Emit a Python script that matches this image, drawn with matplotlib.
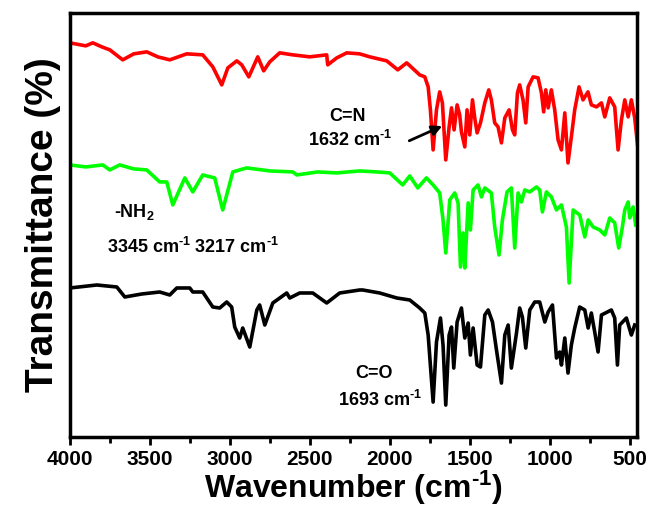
"""FTIR spectra of three samples, stacked with offsets."""

import matplotlib
matplotlib.use('Agg')
import matplotlib.pyplot as plt
from matplotlib import rcParams
from matplotlib.ticker import MultipleLocator


rcParams['font.family'] = ['Liberation Sans', 'DejaVu Sans']
rcParams['font.weight'] = 'bold'
rcParams['mathtext.default'] = 'regular'


# red curve (top)
red_wn = [4000, 3900, 3856, 3800, 3750, 3669, 3600, 3519, 3450, 3375, 3269,
          3169, 3106, 3050, 3012, 2956, 2925, 2881, 2825, 2788, 2750, 2688,
          2606, 2500, 2394, 2388, 2331, 2269, 2188, 2125, 2019, 1950, 1894,
          1813, 1781, 1760, 1746, 1729, 1708, 1688, 1671, 1650, 1629, 1614,
          1598, 1579, 1563, 1552, 1531, 1517, 1500, 1483, 1469, 1454, 1433,
          1406, 1381, 1365, 1344, 1323, 1302, 1281, 1254, 1233, 1219, 1202,
          1188, 1167, 1150, 1135, 1104, 1073, 1052, 1038, 1025, 1010, 990,
          969, 948, 927, 906, 886, 865, 844, 817, 792, 761, 740, 708, 677,
          656, 625, 594, 573, 552, 531, 510, 490, 469, 448]
red_t = [394, 391, 394, 390, 387, 377, 383, 385, 380, 377, 383,
         382, 370, 352, 369, 376, 372, 360, 380, 366, 375, 384,
         382, 380, 382, 372, 379, 384, 383, 380, 376, 367, 374,
         362, 360, 350, 327, 287, 327, 345, 334, 277, 310, 329,
         307, 332, 322, 305, 290, 327, 302, 337, 319, 304, 314,
         334, 347, 337, 314, 310, 294, 319, 327, 307, 302, 344,
         352, 337, 314, 350, 360, 359, 344, 325, 347, 329, 347,
         327, 297, 287, 324, 274, 300, 327, 350, 337, 345, 332, 330, 334,
         320, 339, 330, 287, 317, 337, 320, 337, 319, 287]

# green curve (middle)
green_wn = [4000, 3900, 3794, 3750, 3688, 3600, 3519, 3438, 3394, 3356, 3281,
            3231, 3169, 3094, 3044, 2981, 2894, 2750, 2606, 2581, 2450, 2331,
            2188, 2081, 2000, 1919, 1875, 1825,
            1771, 1729, 1688, 1667, 1650, 1625, 1594, 1573, 1558, 1542, 1531,
            1510, 1496, 1479, 1448, 1427, 1406, 1365, 1344, 1317, 1296, 1267,
            1240, 1219, 1198, 1177, 1156, 1125, 1083, 1063, 1046, 1021, 990,
            958, 927, 896, 879, 854, 813, 781, 760, 729, 688, 656, 625, 594,
            569, 546, 531, 510, 500, 479, 463]
green_t = [272, 270, 272, 267, 272, 268, 267, 255, 255, 232, 259,
           245, 262, 259, 227, 265, 269, 266, 265, 262, 265, 264,
           266, 265, 264, 252, 261, 249,
           259, 252, 244, 217, 184, 237, 244, 234, 170, 204, 169,
           234, 207, 247, 252, 240, 249, 244, 210, 182, 217, 245,
           249, 189, 244, 235, 247, 245, 250, 247, 225, 245, 240,
           227, 232, 210, 154, 227, 222, 200, 217, 210, 207, 202, 219, 214,
           189, 210, 227, 235, 219, 230, 212]

# black curve (bottom)
black_wn = [4000, 3831, 3706, 3656, 3550, 3438, 3375, 3331, 3250, 3231, 3169,
            3106, 3063, 3019, 2988, 2969, 2938, 2919, 2875, 2831, 2813, 2781,
            2731, 2644, 2625, 2563, 2481, 2394, 2313, 2188, 2169, 2063, 1956,
            1875,
            1813, 1781, 1760, 1729, 1708, 1683, 1667, 1650, 1629, 1614, 1600,
            1579, 1552, 1531, 1510, 1496, 1479, 1454, 1433, 1406, 1385, 1358,
            1333, 1302, 1281, 1260, 1240, 1208, 1188, 1171, 1150, 1125, 1094,
            1063, 1031, 1010, 983, 958, 938, 927, 906, 886, 865, 844, 813, 781,
            760, 740, 719, 698, 677, 615, 594, 577, 563, 521, 490, 469]
black_t = [149, 152, 150, 140, 143, 145, 142, 149, 149, 145, 145,
           130, 129, 135, 130, 110, 99, 109, 90, 127, 132, 112,
           134, 144, 139, 144, 144, 134, 144, 147, 147, 144, 139,
           137,
           129, 124, 102, 35, 95, 119, 92, 32, 102, 110, 69,
           115, 129, 99, 114, 82, 109, 72, 70, 122, 127, 115,
           87, 54, 102, 112, 69, 104, 129, 120, 89, 127, 135,
           135, 115, 125, 132, 79, 85, 72, 99, 64, 92, 109, 130, 127,
           109, 124, 105, 85, 122, 127, 119, 72, 112, 119, 102, 112]

fig = plt.figure(figsize=(6.46, 5.13), dpi=100)
ax = fig.add_axes([0.108, 0.148, 0.878, 0.827])

ax.plot(red_wn, red_t, color='#ff0000', linewidth=2.6)
ax.plot(green_wn, green_t, color='#00ff00', linewidth=2.6)
ax.plot(black_wn, black_t, color='black', linewidth=2.6)

ax.set_xlim(4000, 455)
ax.set_ylim(0, 424)
ax.set_yticks([])
ax.xaxis.set_major_locator(MultipleLocator(500))
ax.xaxis.set_minor_locator(MultipleLocator(250))
ax.tick_params(axis='x', which='major', length=6, width=2, labelsize=15, pad=3)
ax.tick_params(axis='x', which='minor', length=4, width=2)
for side in ax.spines.values():
    side.set_linewidth(2.5)

ax.set_xlabel('Wavenumber (cm$^{‐1}$)', fontsize=23, fontweight='bold', labelpad=0)
ax.set_ylabel('Transmittance (%)', fontsize=28, fontweight='bold', labelpad=6)

# annotations
ax.text(2262, 320, 'C=N', ha='center', va='center', fontsize=13)
ax.text(2250, 297, '1632 cm$^{‐1}$', ha='center', va='center', fontsize=13)
ax.annotate('', xy=(1656, 312), xytext=(1894, 295),
            arrowprops=dict(arrowstyle='-|>', color='black', lw=2,
                            mutation_scale=15))
ax.text(3594, 225, '-NH$_2$', ha='center', va='center', fontsize=13)
ax.text(3231, 190, '3345 cm$^{‐1}$ 3217 cm$^{‐1}$', ha='center', va='center',
        fontsize=13)
ax.text(2100, 64, 'C=O', ha='center', va='center', fontsize=13)
ax.text(2063, 37, '1693 cm$^{‐1}$', ha='center', va='center', fontsize=13)

fig.savefig('out.png', dpi=100)
